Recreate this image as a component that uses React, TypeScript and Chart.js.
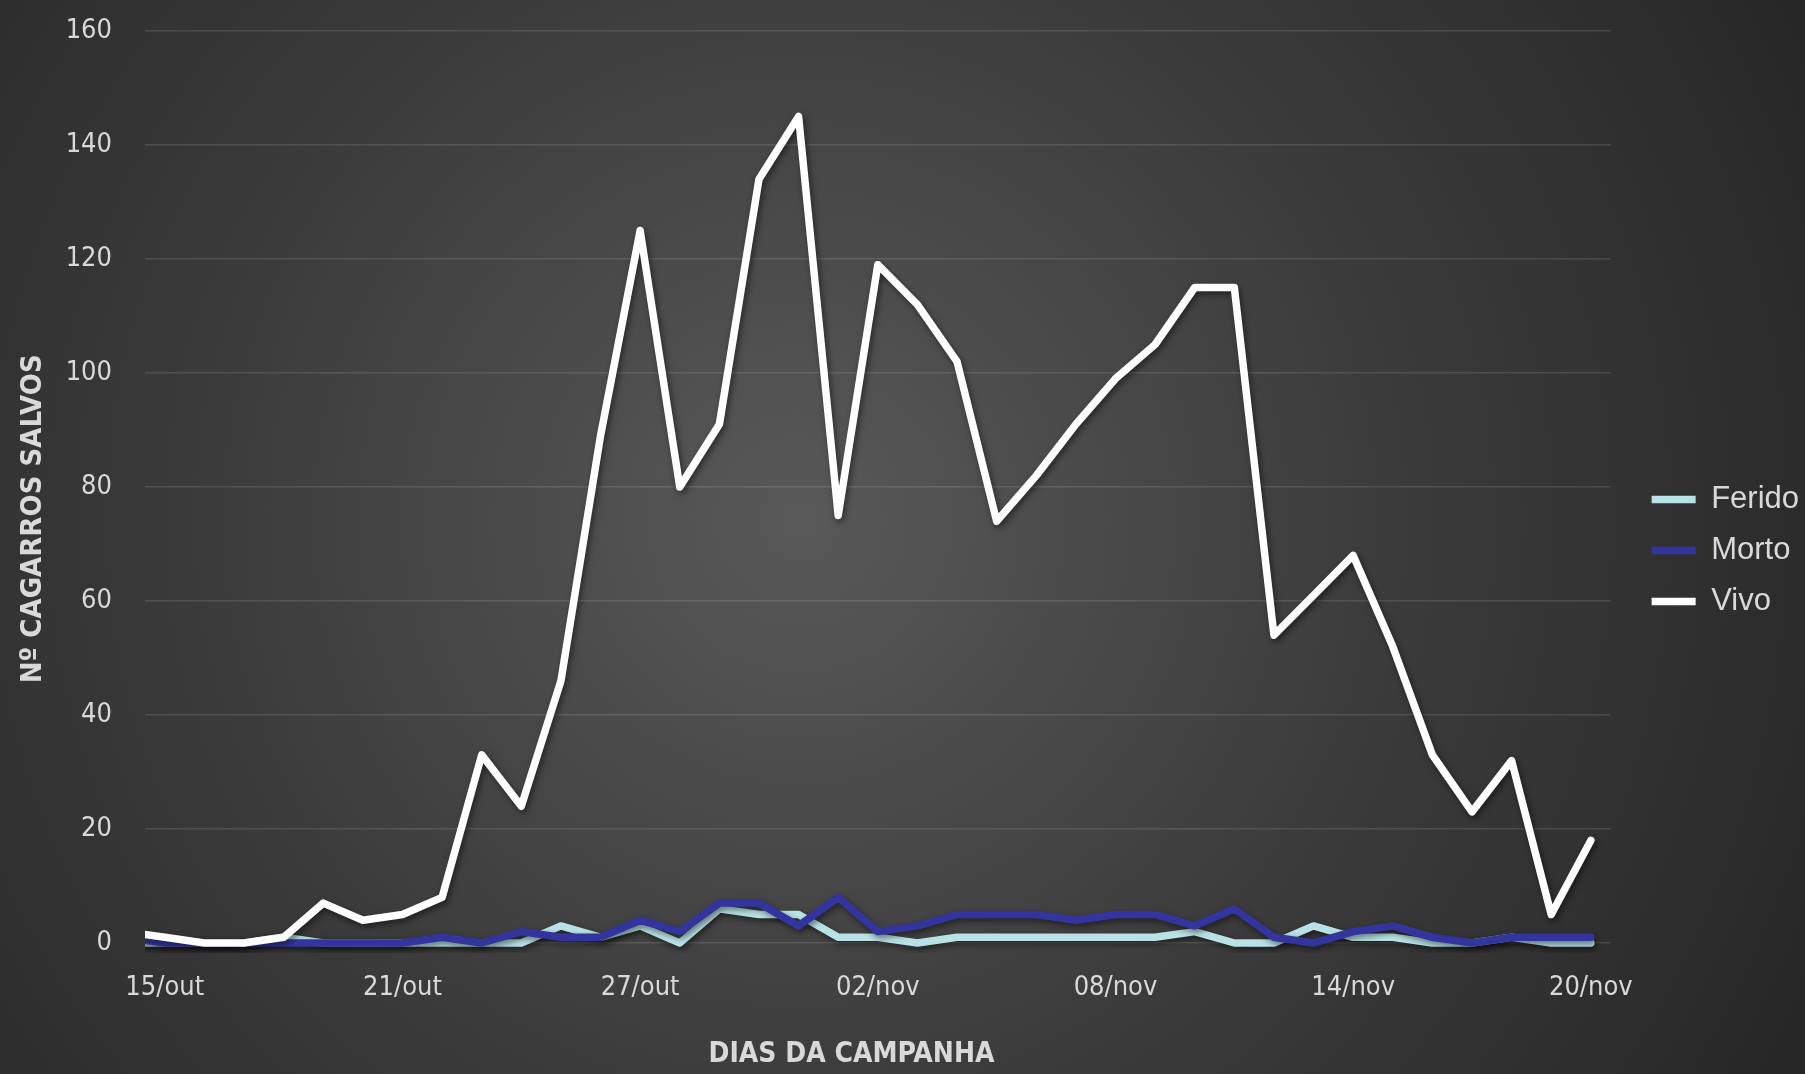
import React, { useEffect, useRef } from 'react';
import { Chart, registerables } from 'chart.js';

Chart.register(...registerables);

// Categories (14/out is only partly visible at the left edge of the plot)
const DATES = [
  '14/out', '15/out', '16/out', '17/out', '18/out', '19/out', '20/out', '21/out', '22/out',
  '23/out', '24/out', '25/out', '26/out', '27/out', '28/out', '29/out', '30/out', '31/out',
  '01/nov', '02/nov', '03/nov', '04/nov', '05/nov', '06/nov', '07/nov', '08/nov', '09/nov',
  '10/nov', '11/nov', '12/nov', '13/nov', '14/nov', '15/nov', '16/nov', '17/nov', '18/nov',
  '19/nov', '20/nov',
];

const TICK_LABELS = ['15/out', '21/out', '27/out', '02/nov', '08/nov', '14/nov', '20/nov'];

const FERIDO = [
  0, 0, 0, 0, 1, 0, 0, 0, 0, 0, 0, 3, 1, 3, 0, 6, 5, 5,
  1, 1, 0, 1, 1, 1, 1, 1, 1, 2, 0, 0, 3, 1, 1, 0, 0, 1, 0, 0,
];

const MORTO = [
  1, 0, 0, 0, 0, 0, 0, 0, 1, 0, 2, 1, 1, 4, 2, 7, 7, 3,
  8, 2, 3, 5, 5, 5, 4, 5, 5, 3, 6, 1, 0, 2, 3, 1, 0, 1, 1, 1,
];

const VIVO = [
  2, 1, 0, 0, 1, 7, 4, 5, 8, 33, 24, 46, 89, 125, 80, 91, 134, 145,
  75, 119, 112, 102, 74, 82, 91, 99, 105, 115, 115, 54, 61, 68, 52, 33, 23, 32, 5, 18,
];

const SERIES_NAMES = ['Ferido', 'Morto', 'Vivo'];
const SERIES_COLORS = ['#B8E2E5', '#34349E', '#FFFFFF'];

const Y_TICKS = { min: 0, max: 160, step: 20 };

const TEXT = '#D9D9D9';
const NARROW = "'Liberation Sans Narrow', 'DejaVu Sans Condensed', 'Arial Narrow', sans-serif";
const SANS = "'Liberation Sans', Arial, sans-serif";
const NBSP = '\u00A0';

const shadowPlugin = {
  id: 'lineShadow',
  beforeDatasetsDraw(chart: any) {
    const c = chart.ctx;
    c.save();
    c.shadowColor = 'rgba(0,0,0,0.5)';
    c.shadowBlur = 6;
    c.shadowOffsetX = 2;
    c.shadowOffsetY = 3;
  },
  afterDatasetsDraw(chart: any) {
    chart.ctx.restore();
  },
};

const legendShift = {
  id: 'legendShift',
  afterLayout(chart: any) {
    const l = chart.legend;
    if (l) {
      l.left += 21;
      l.right += 21;
      l.top -= 2;
      l.bottom -= 2;
    }
  },
};

export default function App() {
  const ref = useRef<HTMLCanvasElement>(null);

  useEffect(() => {
    if (!ref.current) return;
    const seriesValues = [FERIDO, MORTO, VIVO];
    const datasets = seriesValues.map((vals, k) => ({
      label: SERIES_NAMES[k],
      data: vals.map((v, i) => ({ x: i, y: v })),
      borderColor: SERIES_COLORS[k],
      backgroundColor: SERIES_COLORS[k],
      borderWidth: 7.5,
      pointRadius: 0,
      pointHoverRadius: 0,
      tension: 0,
      borderJoinStyle: 'round' as const,
      borderCapStyle: 'round' as const,
      order: 3 - k,
      clip: { left: 0, top: 10, right: 10, bottom: 10 },
    }));

    const chart = new Chart(ref.current, {
      type: 'line',
      data: { datasets },
      plugins: [shadowPlugin, legendShift],
      options: {
        responsive: false,
        animation: false,
        events: [],
        layout: { padding: { top: 31, left: 0, right: 17, bottom: 0 } },
        plugins: {
          tooltip: { enabled: false },
          legend: {
            position: 'right',
            labels: {
              color: TEXT,
              font: { family: SANS, size: 31 },
              usePointStyle: true,
              pointStyle: 'line',
              pointStyleWidth: 44,
              boxWidth: 44,
              padding: 20,
              sort: (a: any, b: any) => a.datasetIndex - b.datasetIndex,
            },
          },
        },
        scales: {
          x: {
            type: 'linear',
            min: 0.5,
            max: DATES.length - 0.5,
            grid: { display: false },
            border: { display: false },
            afterBuildTicks: (s: any) => {
              s.ticks = TICK_LABELS.map((t) => ({ value: DATES.indexOf(t) }));
            },
            afterFit: (s: any) => {
              s.height = 131;
            },
            ticks: {
              color: TEXT,
              font: { family: NARROW, size: 27 },
              padding: 21,
              maxRotation: 0,
              autoSkip: false,
              callback: (v: any) => DATES[v] ?? '',
            },
            title: {
              display: true,
              text: 'DIAS DA CAMPANHA' + NBSP.repeat(6),
              color: TEXT,
              font: { family: NARROW, size: 28, weight: 'bold' },
              padding: { top: 0, bottom: 2 },
            },
          },
          y: {
            min: Y_TICKS.min,
            max: Y_TICKS.max,
            ticks: {
              stepSize: Y_TICKS.step,
              color: TEXT,
              font: { family: NARROW, size: 27 },
              padding: 5,
            },
            grid: {
              color: 'rgba(255,255,255,0.12)',
              lineWidth: 1.5,
              drawTicks: true,
              tickLength: 28,
              tickColor: 'rgba(0,0,0,0)',
            },
            border: { display: false },
            afterFit: (s: any) => {
              s.width = 145;
            },
            title: {
              display: true,
              text: 'Nº CAGARROS SALVOS' + NBSP.repeat(7),
              color: TEXT,
              font: { family: NARROW, size: 29, weight: 'bold' },
              padding: { top: 16, bottom: 0 },
            },
          },
        },
      } as any,
    });
    return () => chart.destroy();
  }, []);

  return (
    <div
      style={{
        position: 'absolute',
        left: 0,
        top: 0,
        width: 1805,
        height: 1074,
        overflow: 'hidden',
        background: 'radial-gradient(circle 1150px at 800px 520px, #595959 0%, #3c3c3c 50%, #262626 100%)',
      }}
    >
      <canvas ref={ref} width={1805} height={1074} style={{ display: 'block' }} />
    </div>
  );
}
